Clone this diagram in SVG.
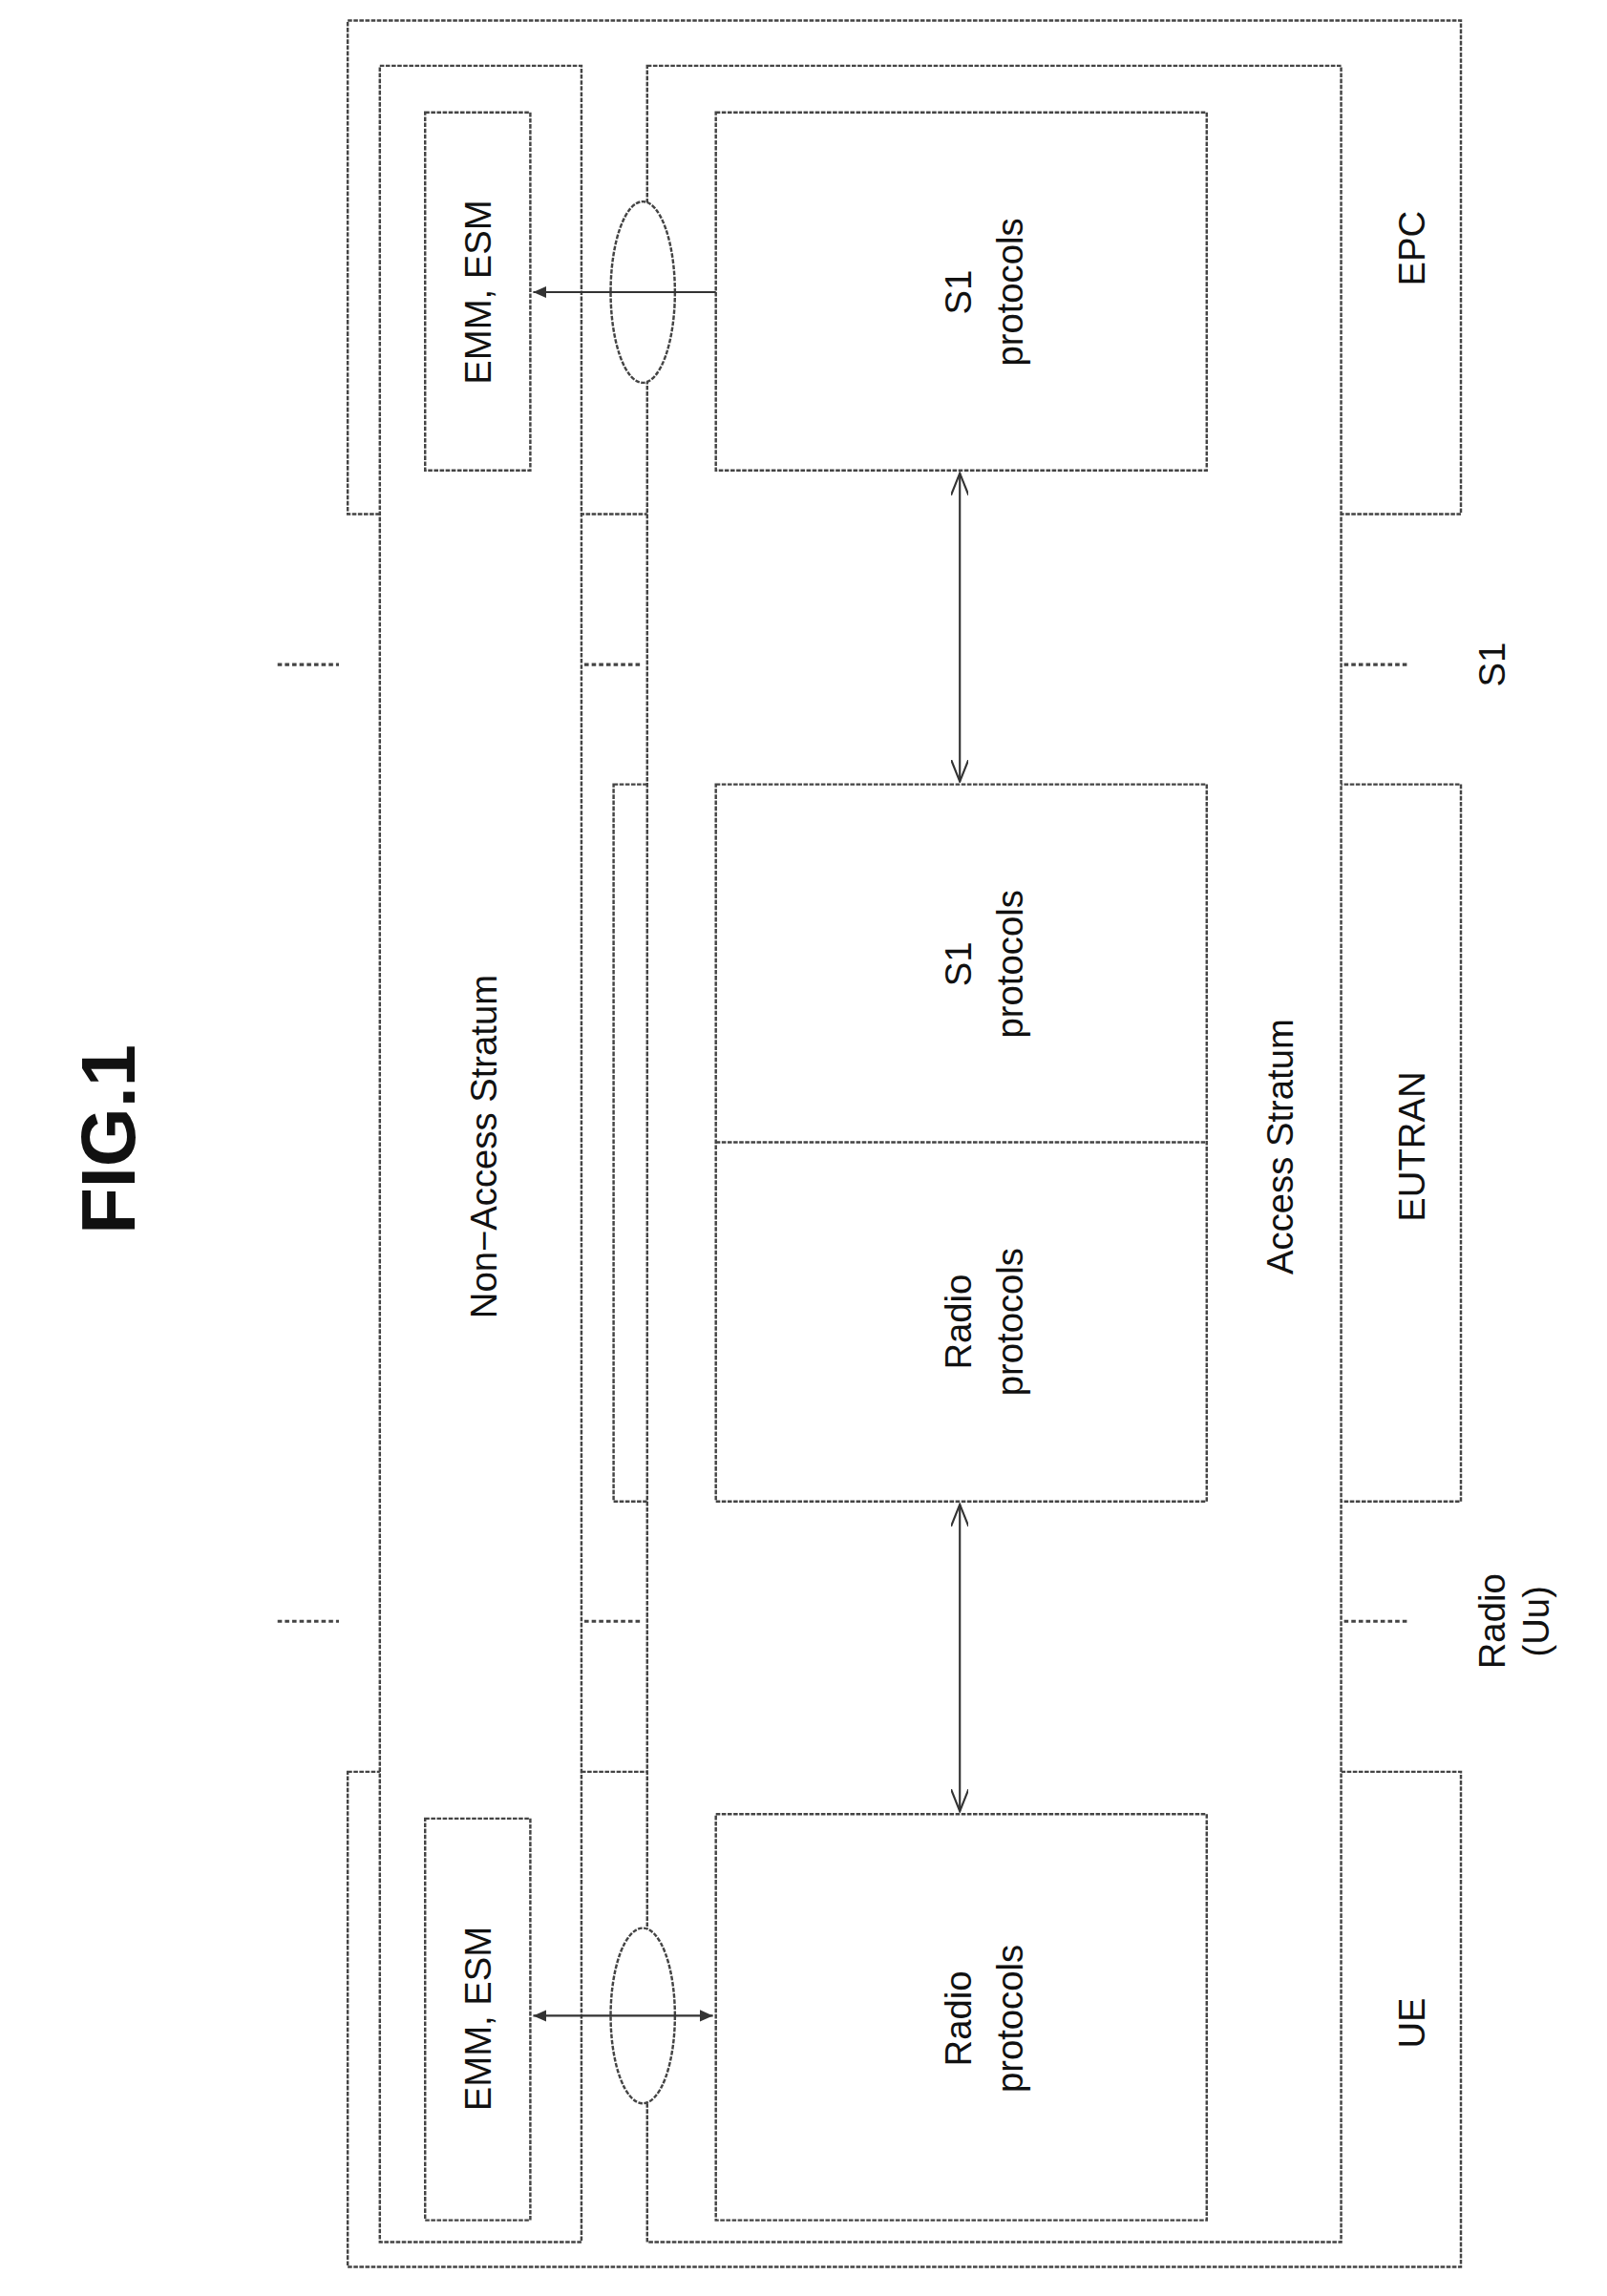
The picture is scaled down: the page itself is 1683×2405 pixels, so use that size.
<svg xmlns="http://www.w3.org/2000/svg" width="1683" height="2405" viewBox="0 0 1683 2405">
<style>
.b{fill:#fff;stroke:#444;stroke-width:1.6;stroke-dasharray:3 1}
.o{fill:none;stroke:#444;stroke-width:1.6;stroke-dasharray:3 1}
.l{fill:none;stroke:#333;stroke-width:1.4}
.d{fill:none;stroke:#444;stroke-width:2;stroke-dasharray:3 2}
text{font-family:"Liberation Sans",Arial,sans-serif;font-size:25px;fill:#111;text-anchor:middle}
</style>
<defs>
<marker id="v" markerWidth="16" markerHeight="12" refX="15" refY="6" orient="auto-start-reverse" markerUnits="userSpaceOnUse"><path d="M0,0 L15,6 L0,12" fill="none" stroke="#333" stroke-width="1.4"/></marker>
<marker id="f" markerWidth="10" markerHeight="8" refX="9" refY="4" orient="auto-start-reverse" markerUnits="userSpaceOnUse"><path d="M0,0 L9,4 L0,8 Z" fill="#333"/></marker>
</defs>
<rect width="1683" height="2405" fill="#fff"/>
<g transform="scale(1.53)">
<text transform="translate(92,780) rotate(-90)" style="font-size:52px;font-weight:bold">FIG.1</text>
<g id="EPC"><rect class="o" x="238" y="14" width="762" height="338"/><text transform="translate(975,170) rotate(-90)">EPC</text></g>
<g id="UE"><rect class="o" x="238" y="1213" width="762" height="339"/><text transform="translate(975,1385) rotate(-90)">UE</text></g>
<g id="EUTRAN"><rect class="o" x="420" y="537" width="580" height="491"/><text transform="translate(975,785) rotate(-90)">EUTRAN</text></g>
<g id="NAS"><rect class="b" x="260" y="45" width="138" height="1490"/><text transform="translate(340,785) rotate(-90)">Non−Access Stratum</text></g>
<g id="AS"><rect class="b" x="443" y="45" width="475" height="1490"/><text transform="translate(885,785) rotate(-90)">Access Stratum</text></g>
<g id="emm1"><rect class="b" x="291" y="77" width="72" height="245"/><text transform="translate(336,200) rotate(-90)">EMM, ESM</text></g>
<g id="emm2"><rect class="b" x="291" y="1245" width="72" height="275"/><text transform="translate(336,1382) rotate(-90)">EMM, ESM</text></g>
<g id="s1epc"><rect class="b" x="490" y="77" width="336" height="245"/><text transform="translate(0,200) rotate(-90)"><tspan x="0" y="665">S1</tspan><tspan x="0" y="700">protocols</tspan></text></g>
<g id="enb"><rect class="b" x="490" y="537" width="336" height="491"/><line class="o" x1="490" y1="782" x2="826" y2="782"/>
<text transform="translate(0,660) rotate(-90)"><tspan x="0" y="665">S1</tspan><tspan x="0" y="700">protocols</tspan></text>
<text transform="translate(0,905) rotate(-90)"><tspan x="0" y="665">Radio</tspan><tspan x="0" y="700">protocols</tspan></text></g>
<g id="radioue"><rect class="b" x="490" y="1242" width="336" height="278"/><text transform="translate(0,1382) rotate(-90)"><tspan x="0" y="665">Radio</tspan><tspan x="0" y="700">protocols</tspan></text></g>
<g id="connectors">
<ellipse class="b" cx="440" cy="200" rx="22" ry="62"/>
<ellipse class="b" cx="440" cy="1380" rx="22" ry="60"/>
<line class="l" x1="490" y1="200" x2="365" y2="200" marker-end="url(#f)"/>
<line class="l" x1="365" y1="1380" x2="488" y2="1380" marker-start="url(#f)" marker-end="url(#f)"/>
<line class="l" x1="657" y1="324" x2="657" y2="535" marker-start="url(#v)" marker-end="url(#v)"/>
<line class="l" x1="657" y1="1030" x2="657" y2="1240" marker-start="url(#v)" marker-end="url(#v)"/>
<path class="d" d="M190,455H232M400,455H440M920,455H965M190,1110H232M400,1110H440M920,1110H965"/>
<text transform="translate(1030,455) rotate(-90)">S1</text>
<text transform="translate(0,1110) rotate(-90)"><tspan x="0" y="1030">Radio</tspan><tspan x="0" y="1060">(Uu)</tspan></text>
</g>
</g>
</svg>
